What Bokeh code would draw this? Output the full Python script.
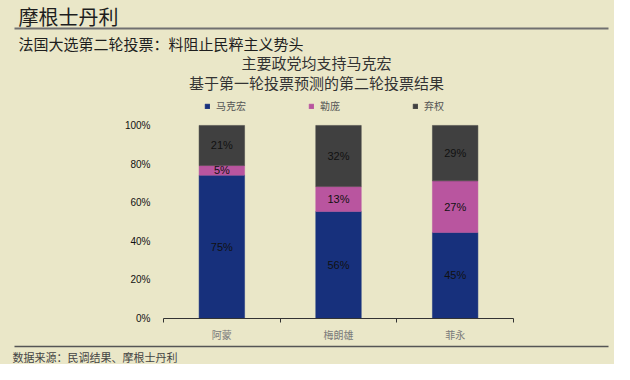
from bokeh.plotting import figure
from bokeh.layouts import column
from bokeh.models import (FixedTicker, Legend, LegendItem, ColumnDataSource, Range1d)
from bokeh.core.properties import value
from bokeh.embed import file_html
from bokeh.resources import INLINE

# ---- data ----
candidates = ["阿蒙", "梅朗雄", "菲永"]
series_names = ["马克宏", "勒庞", "弃权"]
macron = [75, 56, 45]
lepen = [5, 13, 27]
abstain = [21, 32, 29]
y_ticks = [0, 20, 40, 60, 80, 100]

header = "摩根士丹利"
subtitle = "法国大选第二轮投票：料阻止民粹主义势头"
chart_title1 = "主要政党均支持马克宏"
chart_title2 = "基于第一轮投票预测的第二轮投票结果"
source_note = "数据来源：民调结果、摩根士丹利"

colors = ["#17307c", "#b9559f", "#404040"]
BG = "#eae7c8"
CJK = "Noto Sans CJK SC"
LAT = "Liberation Sans"
W = 614


def blank_fig(h):
    f = figure(width=W, height=h, output_backend="svg", toolbar_location=None,
               x_range=Range1d(0, W), y_range=Range1d(h, 0),
               x_axis_type=None, y_axis_type=None,
               min_border=0, min_border_left=0, min_border_right=0,
               min_border_top=0, min_border_bottom=0, frame_align=False)
    f.background_fill_color = BG
    f.border_fill_color = BG
    f.outline_line_color = None
    f.grid.visible = False
    return f


# ---- header ----
HH = 95
hdr = blank_fig(HH)
hdr.text(x=[18], y=[16], text=[header], text_font=value(CJK), text_font_size="20px",
         text_color="#1e1e1e", text_baseline="middle", text_align="left")
hdr.segment(x0=[14], y0=[28], x1=[608], y1=[28], line_color="#707070", line_width=2)
hdr.text(x=[18], y=[43], text=[subtitle], text_font=value(CJK), text_font_size="15px",
         text_color="#1e1e1e", text_baseline="middle", text_align="left")
hdr.text(x=[316, 316], y=[62, 82], text=[chart_title1, chart_title2],
         text_font=value(CJK), text_font_size="15px", text_color="#333333",
         text_baseline="middle", text_align="center")

# ---- main chart ----
totals = [a + b + c for a, b, c in zip(macron, lepen, abstain)]
xs = [i + 0.5 for i in range(len(candidates))]
m_f = [v / t for v, t in zip(macron, totals)]
l_f = [v / t for v, t in zip(lepen, totals)]
a_f = [v / t for v, t in zip(abstain, totals)]
src = ColumnDataSource(dict(x=xs, m=m_f, l=l_f, a=a_f))

MH = 249
p = figure(width=W, height=MH, output_backend="svg", toolbar_location=None,
           x_range=Range1d(0, len(candidates)), y_range=Range1d(0, 1.155),
           min_border_left=163, min_border_right=101, min_border_top=0,
           min_border_bottom=25, frame_align=False)
p.background_fill_color = BG
p.border_fill_color = BG
p.outline_line_color = None
p.grid.visible = False

rs = p.vbar_stack(["m", "l", "a"], x="x", width=0.39, source=src,
                  fill_color=colors, line_color=colors, line_width=0.5)

lab_x, lab_y, lab_t = [], [], []
for i in range(len(candidates)):
    base = 0.0
    for frac, raw in ((m_f[i], macron[i]), (l_f[i], lepen[i]), (a_f[i], abstain[i])):
        lab_x.append(xs[i]); lab_y.append(base + frac / 2); lab_t.append(f"{raw}%")
        base += frac
p.text(x=lab_x, y=lab_y, text=lab_t, text_align="center", text_baseline="middle",
       text_font=value(LAT), text_font_size="11px", text_color="#111111")

xa = p.xaxis[0]
xa.ticker = FixedTicker(ticks=xs, minor_ticks=list(range(len(candidates) + 1)))
xa.major_label_overrides = {x: c for x, c in zip(xs, candidates)}
xa.major_tick_line_color = None
xa.minor_tick_line_color = "#333333"
xa.minor_tick_out = 4
xa.minor_tick_in = 0
xa.axis_line_color = "#333333"
xa.major_label_text_font = CJK
xa.major_label_text_font_size = "10px"
xa.major_label_text_color = "#7a7a7a"
xa.major_label_standoff = 2

ya = p.yaxis[0]
ya.ticker = FixedTicker(ticks=[t / 100 for t in y_ticks], minor_ticks=[])
ya.major_label_overrides = {t / 100: f"{t}%" for t in y_ticks}
ya.axis_line_color = None
ya.major_tick_line_color = None
ya.minor_tick_line_color = None
ya.major_label_text_font = LAT
ya.major_label_text_font_size = "10px"
ya.major_label_text_color = "#111111"
ya.major_label_standoff = 7

items = [LegendItem(label=n, renderers=[r]) for n, r in zip(series_names, rs)]
legend = Legend(items=items, orientation="horizontal", location=(41, 205),
                background_fill_alpha=0, border_line_color=None,
                glyph_width=6, glyph_height=6, label_standoff=6,
                label_width=92, spacing=0, padding=0, margin=0,
                label_text_font=CJK, label_text_font_size="10px",
                label_text_color="#555555", label_height=12)
p.add_layout(legend)

# ---- footer ----
FH = 364 - HH - MH
ftr = blank_fig(FH)
ftr.segment(x0=[14], y0=[2], x1=[608], y1=[2], line_color="#555555", line_width=1.5)
ftr.text(x=[12], y=[12], text=[source_note], text_font=value(CJK), text_font_size="11px",
         text_color="#444444", text_baseline="middle", text_align="left")

layout = column(hdr, p, ftr, spacing=0)
layout.styles = {"background-color": BG}
open("out.html", "w").write(file_html(layout, INLINE))
